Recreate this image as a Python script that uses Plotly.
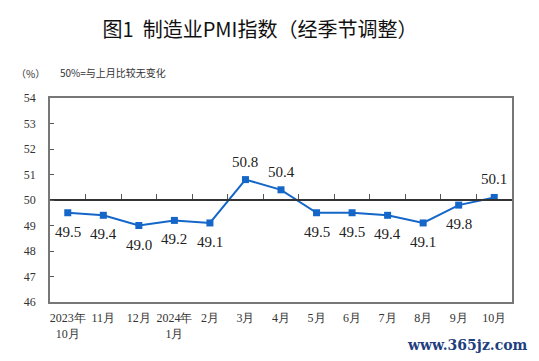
import plotly.graph_objects as go

categories = ["2023年<br>10月", "11月", "12月", "2024年<br>1月", "2月", "3月", "4月",
              "5月", "6月", "7月", "8月", "9月", "10月"]
pmi = [49.5, 49.4, 49.0, 49.2, 49.1, 50.8, 50.4, 49.5, 49.5, 49.4, 49.1, 49.8, 50.1]
y_ticks = [46, 47, 48, 49, 50, 51, 52, 53, 54]

line_color = "#1466c8"
serif = "Liberation Serif, Times New Roman, serif"
cjk = "Noto Sans CJK SC, sans-serif"

fig = go.Figure()
fig.add_trace(go.Scatter(
    x=categories, y=pmi, mode="lines+markers",
    line=dict(color=line_color, width=2),
    marker=dict(symbol="square", size=7, color=line_color),
    hoverinfo="skip", showlegend=False,
))
# invisible trace to carry the axis drawn at the 50 line
fig.add_trace(go.Scatter(
    x=categories, y=pmi, xaxis="x2", mode="markers",
    marker=dict(opacity=0), hoverinfo="skip", showlegend=False,
))

for c, v in zip(categories, pmi):
    above = v > 50
    fig.add_annotation(
        x=c, y=v, text=f"{v:.1f}", showarrow=False,
        yshift=18 if above else -19,
        font=dict(family=serif, size=15, color="#222"),
    )

fig.add_annotation(xref="paper", yref="paper", x=-0.007, y=1.12, xanchor="right",
                   yanchor="middle",
                   text="（%）", showarrow=False, font=dict(family=cjk, size=10, color="#333"))
fig.add_annotation(xref="paper", yref="paper", x=0.017, y=1.125, xanchor="left",
                   yanchor="middle",
                   text="50%=与上月比较无变化", showarrow=False,
                   font=dict(family=cjk, size=10, color="#333"))
fig.add_annotation(xref="paper", yref="paper", x=1.039, y=-0.21, xanchor="right",
                   yanchor="middle",
                   text="<b>www.365jz.com</b>", showarrow=False,
                   font=dict(family="DejaVu Serif, serif", size=14, color="#1f3f80"))

# page body has an 8px margin, so the figure is shrunk by 8px to fit the window
fig.update_layout(
    width=531, height=353,
    margin=dict(l=42, r=27, t=90, b=59),
    paper_bgcolor="white", plot_bgcolor="white",
    title=dict(text="图1  制造业PMI指数（经季节调整）", x=0.4746, xanchor="center",
               y=0.938, yanchor="middle", automargin=False,
               font=dict(family=cjk, size=20, color="#111")),
    xaxis=dict(
        type="category", range=[-0.5, len(categories) - 0.5], automargin=False,
        showline=True, linecolor="#777", linewidth=1.5, mirror=True,
        ticks="", showgrid=False, zeroline=False, ticklabelstandoff=4,
        tickfont=dict(family=serif, size=12, color="#333"),
    ),
    xaxis2=dict(
        type="category", overlaying="x", anchor="free", position=0.5, side="bottom",
        range=[-0.5, len(categories) - 0.5], automargin=False,
        showline=True, linecolor="#333", linewidth=1.5,
        ticks="inside", ticklen=5, tickcolor="#555", tickson="boundaries",
        showticklabels=False, showgrid=False, zeroline=False,
    ),
    yaxis=dict(
        range=[46, 54], tickvals=y_ticks, ticktext=[str(t) for t in y_ticks],
        automargin=False,
        showline=True, linecolor="#777", linewidth=1.5, mirror=True,
        ticks="inside", ticklen=4, tickcolor="#555",
        showgrid=False, zeroline=False, ticklabelstandoff=10,
        tickfont=dict(family=serif, size=12, color="#333"),
    ),
)

fig.write_html("out.html")
